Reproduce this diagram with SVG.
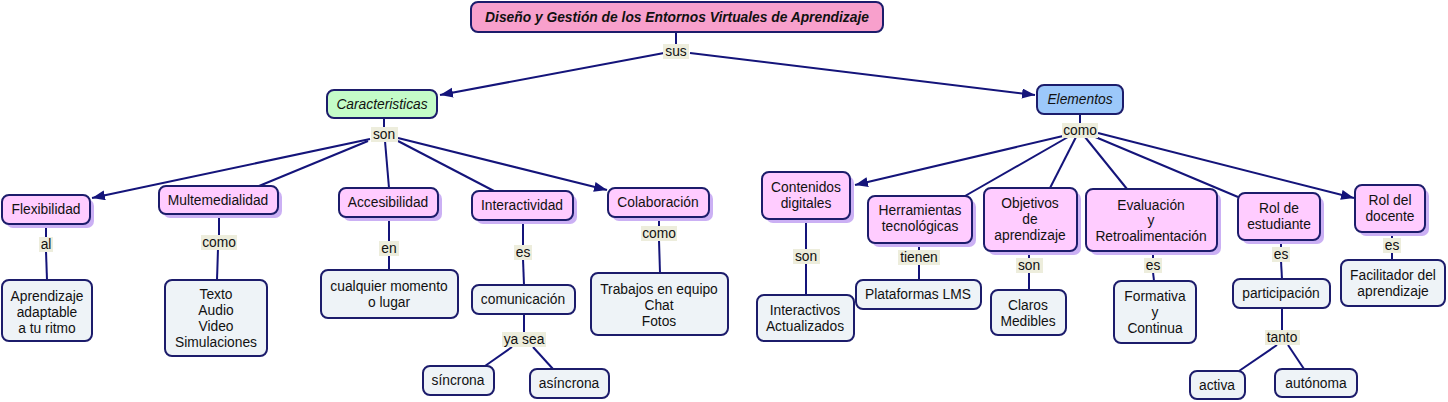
<svg xmlns="http://www.w3.org/2000/svg" width="1448" height="402" viewBox="0 0 1448 402">
<defs>
<marker id="arr" markerUnits="userSpaceOnUse" markerWidth="14" markerHeight="11" refX="13" refY="5" orient="auto">
<path d="M0,0 L13,5 L0,10 z" fill="#14147a"/>
</marker>
<style>
text{font-family:"Liberation Sans",Arial,sans-serif;font-size:13.8px;fill:#111;text-anchor:middle}
.n{stroke:#1c1c6b;stroke-width:2}
.c{fill:#ffccff}
.l{fill:#eef3f7}
.sh{fill:#cbb0f4}
.lb{fill:#ededdc}
.e line,.e polyline{stroke:#14147a;stroke-width:2;fill:none}
.a{marker-end:url(#arr)}
</style>
</defs>
<rect width="1448" height="402" fill="#fff"/>
<g class="e" id="connectors">
<line x1="676" y1="32" x2="676" y2="45"/>
<line class="a" x1="664" y1="53" x2="440" y2="95"/>
<line class="a" x1="690" y1="53" x2="1035" y2="95"/>
<line x1="384" y1="118" x2="384" y2="127"/>
<line class="a" x1="370" y1="139" x2="92" y2="198"/>
<line x1="368" y1="141" x2="259" y2="186"/>
<line x1="385" y1="141" x2="389" y2="188"/>
<line x1="398" y1="141" x2="494" y2="191"/>
<line class="a" x1="398" y1="138" x2="607" y2="190"/>
<line x1="46" y1="224" x2="46" y2="237"/>
<line x1="46" y1="251" x2="47" y2="280"/>
<line x1="219" y1="214" x2="219" y2="235"/>
<line x1="218" y1="249" x2="217" y2="280"/>
<line x1="389" y1="217" x2="389" y2="241"/>
<line x1="389" y1="255" x2="389" y2="270"/>
<line x1="523" y1="220" x2="523" y2="245"/>
<line x1="523" y1="259" x2="524" y2="285"/>
<line x1="524" y1="314" x2="524" y2="332"/>
<line x1="512" y1="347" x2="485" y2="366"/>
<line x1="533" y1="347" x2="553" y2="369"/>
<line x1="659" y1="217" x2="659" y2="226"/>
<line x1="659" y1="240" x2="660" y2="273"/>
<line x1="1080" y1="114" x2="1080" y2="123"/>
<line class="a" x1="1063" y1="136" x2="855" y2="185"/>
<line x1="1068" y1="137" x2="965" y2="196"/>
<line x1="1076" y1="137" x2="1050" y2="188"/>
<line x1="1085" y1="137" x2="1127" y2="189"/>
<line x1="1093" y1="136" x2="1238" y2="197"/>
<line class="a" x1="1098" y1="133" x2="1354" y2="198"/>
<line x1="806" y1="219" x2="806" y2="249"/>
<line x1="806" y1="263" x2="806" y2="295"/>
<line x1="919" y1="243" x2="919" y2="250"/>
<line x1="919" y1="264" x2="919" y2="280"/>
<line x1="1029" y1="251" x2="1029" y2="258"/>
<line x1="1029" y1="272" x2="1029" y2="290"/>
<line x1="1153" y1="251" x2="1153" y2="258"/>
<line x1="1153" y1="272" x2="1154" y2="281"/>
<line x1="1281" y1="240" x2="1281" y2="247"/>
<line x1="1281" y1="261" x2="1282" y2="279"/>
<line x1="1282" y1="308" x2="1282" y2="330"/>
<line x1="1277" y1="345" x2="1239" y2="371"/>
<line x1="1288" y1="345" x2="1304" y2="369"/>
<line x1="1392" y1="232" x2="1392" y2="238"/>
<line x1="1392" y1="252" x2="1392" y2="260"/>
</g>
<g id="labels">
<rect class="lb" x="663" y="44" width="26" height="15"/><text x="676" y="56">sus</text>
<rect class="lb" x="371" y="127" width="27" height="15"/><text x="384" y="139">son</text>
<rect class="lb" x="1062" y="123" width="36" height="15"/><text x="1080" y="135">como</text>
<rect class="lb" x="39" y="237" width="14" height="15"/><text x="46" y="249">al</text>
<rect class="lb" x="201" y="235" width="36" height="15"/><text x="219" y="247">como</text>
<rect class="lb" x="379" y="241" width="20" height="15"/><text x="389" y="253">en</text>
<rect class="lb" x="514" y="245" width="18" height="15"/><text x="523" y="257">es</text>
<rect class="lb" x="502" y="332" width="44" height="15"/><text x="524" y="344">ya sea</text>
<rect class="lb" x="641" y="226" width="36" height="15"/><text x="659" y="238">como</text>
<rect class="lb" x="793" y="249" width="27" height="15"/><text x="806" y="261">son</text>
<rect class="lb" x="898" y="250" width="42" height="15"/><text x="919" y="262">tienen</text>
<rect class="lb" x="1016" y="258" width="27" height="15"/><text x="1029" y="270">son</text>
<rect class="lb" x="1144" y="258" width="18" height="15"/><text x="1153" y="270">es</text>
<rect class="lb" x="1272" y="247" width="18" height="15"/><text x="1281" y="259">es</text>
<rect class="lb" x="1265" y="330" width="35" height="15"/><text x="1282" y="342">tanto</text>
<rect class="lb" x="1383" y="238" width="18" height="15"/><text x="1392" y="250">es</text>
</g>
<g id="root"><rect class="n" x="471" y="2" width="412" height="30" rx="7" fill="#f8a0cc"/><text x="677" y="22" font-weight="bold" font-style="italic" font-size="14">Diseño y Gestión de los Entornos Virtuales de Aprendizaje</text></g>
<g id="caracteristicas"><rect class="n" x="327" y="90" width="110" height="28" rx="7" fill="#c4fcc8"/><text x="382" y="109" font-style="italic">Caracteristicas</text></g>
<g id="elementos"><rect class="n" x="1037" y="85" width="86" height="29" rx="7" fill="#9cc8fa"/><text x="1080" y="104" font-style="italic">Elementos</text></g>
<g id="flexibilidad"><rect class="sh" x="6" y="199" width="88" height="29" rx="7"/><rect class="n c" x="2" y="195" width="88" height="29" rx="7"/><text x="46" y="214">Flexibilidad</text></g>
<g id="multemedialidad"><rect class="sh" x="163" y="190" width="119" height="28" rx="7"/><rect class="n c" x="159" y="186" width="119" height="28" rx="7"/><text x="218" y="205">Multemedialidad</text></g>
<g id="accesibilidad"><rect class="sh" x="343" y="192" width="99" height="29" rx="7"/><rect class="n c" x="339" y="188" width="99" height="29" rx="7"/><text x="388" y="207">Accesibilidad</text></g>
<g id="interactividad"><rect class="sh" x="476" y="195" width="101" height="29" rx="7"/><rect class="n c" x="472" y="191" width="101" height="29" rx="7"/><text x="522" y="210">Interactividad</text></g>
<g id="colaboracion"><rect class="sh" x="612" y="192" width="101" height="29" rx="7"/><rect class="n c" x="608" y="188" width="101" height="29" rx="7"/><text x="658" y="207">Colaboración</text></g>
<g id="aprendizaje"><rect class="n l" x="2" y="280" width="90" height="61" rx="7"/><text x="47" y="301">Aprendizaje</text><text x="47" y="317">adaptable</text><text x="47" y="333">a tu ritmo</text></g>
<g id="texto"><rect class="n l" x="165" y="280" width="102" height="76" rx="7"/><text x="216" y="299">Texto</text><text x="216" y="315">Audio</text><text x="216" y="331">Video</text><text x="216" y="347">Simulaciones</text></g>
<g id="cualquier"><rect class="n l" x="321" y="270" width="137" height="48" rx="7"/><text x="389" y="291">cualquier momento</text><text x="389" y="307">o lugar</text></g>
<g id="comunicacion"><rect class="n l" x="472" y="285" width="103" height="29" rx="7"/><text x="523" y="304">comunicación</text></g>
<g id="sincrona"><rect class="n l" x="423" y="366" width="71" height="29" rx="7"/><text x="458" y="385">síncrona</text></g>
<g id="asincrona"><rect class="n l" x="530" y="369" width="79" height="29" rx="7"/><text x="569" y="388">asíncrona</text></g>
<g id="trabajos"><rect class="n l" x="591" y="273" width="137" height="62" rx="7"/><text x="659" y="294">Trabajos en equipo</text><text x="659" y="310">Chat</text><text x="659" y="326">Fotos</text></g>
<g id="contenidos"><rect class="sh" x="766" y="176" width="88" height="47" rx="7"/><rect class="n c" x="762" y="172" width="88" height="47" rx="7"/><text x="806" y="192">Contenidos</text><text x="806" y="208">digitales</text></g>
<g id="herramientas"><rect class="sh" x="872" y="200" width="104" height="47" rx="7"/><rect class="n c" x="868" y="196" width="104" height="47" rx="7"/><text x="920" y="215">Herramientas</text><text x="920" y="231">tecnológicas</text></g>
<g id="objetivos"><rect class="sh" x="988" y="192" width="93" height="63" rx="7"/><rect class="n c" x="984" y="188" width="93" height="63" rx="7"/><text x="1030" y="208">Objetivos</text><text x="1030" y="224">de</text><text x="1030" y="240">aprendizaje</text></g>
<g id="evaluacion"><rect class="sh" x="1090" y="193" width="131" height="62" rx="7"/><rect class="n c" x="1086" y="189" width="131" height="62" rx="7"/><text x="1151" y="210">Evaluación</text><text x="1151" y="225">y</text><text x="1151" y="241">Retroalimentación</text></g>
<g id="rolestudiante"><rect class="sh" x="1242" y="197" width="82" height="47" rx="7"/><rect class="n c" x="1238" y="193" width="82" height="47" rx="7"/><text x="1279" y="213">Rol de</text><text x="1279" y="229">estudiante</text></g>
<g id="roldocente"><rect class="sh" x="1359" y="189" width="70" height="47" rx="7"/><rect class="n c" x="1355" y="185" width="70" height="47" rx="7"/><text x="1390" y="205">Rol del</text><text x="1390" y="221">docente</text></g>
<g id="interactivos"><rect class="n l" x="757" y="295" width="97" height="46" rx="7"/><text x="805" y="315">Interactivos</text><text x="805" y="331">Actualizados</text></g>
<g id="plataformas"><rect class="n l" x="856" y="280" width="125" height="29" rx="7"/><text x="918" y="299">Plataformas LMS</text></g>
<g id="claros"><rect class="n l" x="991" y="290" width="75" height="45" rx="7"/><text x="1028" y="310">Claros</text><text x="1028" y="326">Medibles</text></g>
<g id="formativa"><rect class="n l" x="1114" y="281" width="82" height="62" rx="7"/><text x="1155" y="301">Formativa</text><text x="1155" y="317">y</text><text x="1155" y="333">Continua</text></g>
<g id="participacion"><rect class="n l" x="1233" y="279" width="97" height="29" rx="7"/><text x="1281" y="298">participación</text></g>
<g id="activa"><rect class="n l" x="1190" y="371" width="55" height="28" rx="7"/><text x="1217" y="390">activa</text></g>
<g id="autonoma"><rect class="n l" x="1275" y="369" width="82" height="28" rx="7"/><text x="1316" y="388">autónoma</text></g>
<g id="facilitador"><rect class="n l" x="1341" y="260" width="104" height="46" rx="7"/><text x="1393" y="280">Facilitador del</text><text x="1393" y="296">aprendizaje</text></g>
</svg>
